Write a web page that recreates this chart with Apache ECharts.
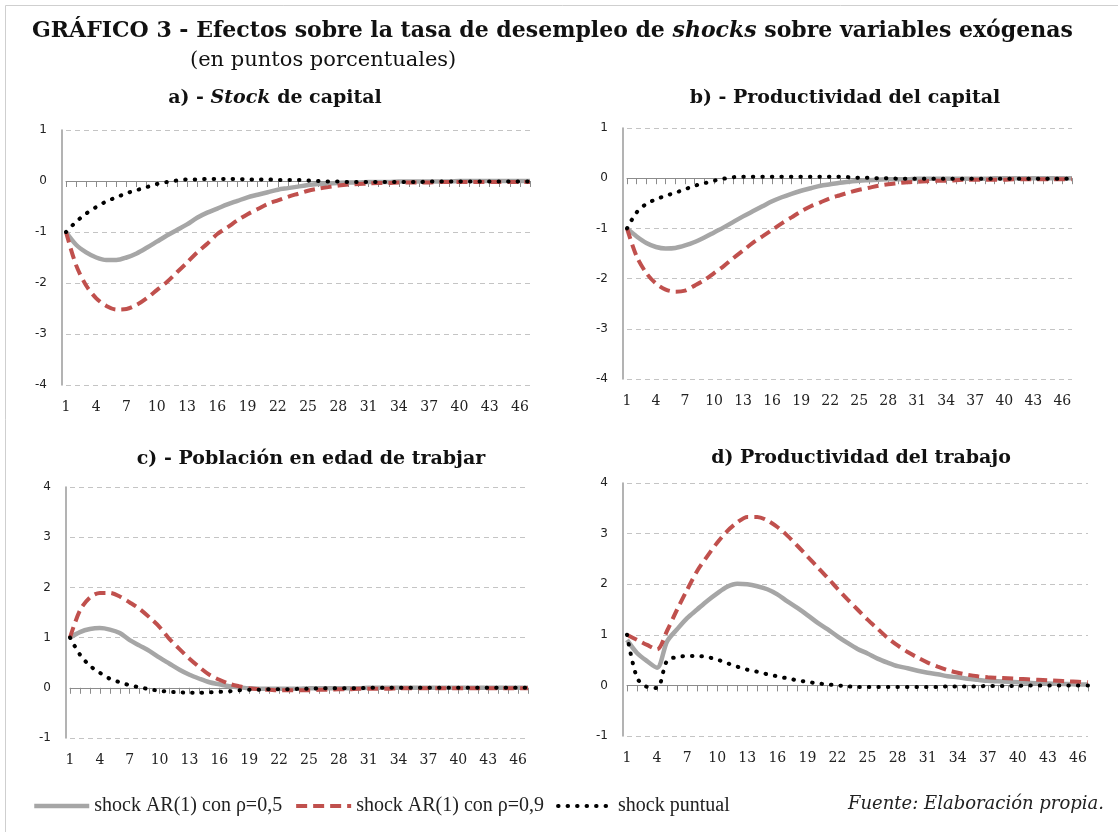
<!DOCTYPE html>
<html>
<head>
<meta charset="utf-8">
<title>Gráfico 3</title>
<script src="https://cdn.jsdelivr.net/npm/echarts@6/dist/echarts.min.js"></script>
<style>
html,body{margin:0;padding:0;background:#fff;}
#main{width:1118px;height:832px;}
</style>
</head>
<body>
<div id="main"></div>
<script>
// períodos (eje x)
var cats = ['1','2','3','4','5','6','7','8','9','10','11','12','13','14','15','16','17','18','19','20',
    '21','22','23','24','25','26','27','28','29','30','31','32','33','34','35','36','37','38','39','40',
    '41','42','43','44','45','46','47'];

var serieNames = ['shock AR(1) con ρ=0,5', 'shock AR(1) con ρ=0,9', 'shock puntual'];

// a) Stock de capital
var aR5 = [-1.00,-1.25,-1.40,-1.50,-1.55,-1.55,-1.50,-1.42,-1.31,-1.19,
    -1.07,-0.96,-0.85,-0.72,-0.62,-0.54,-0.46,-0.39,-0.32,-0.27,
    -0.22,-0.17,-0.14,-0.11,-0.08,-0.06,-0.05,-0.04,-0.03,-0.03,
    -0.02,-0.02,-0.02,-0.01,-0.01,-0.01,-0.01,-0.01,-0.01,0,
    0,0,0,0,0,0,0];
var aR9 = [-1.00,-1.65,-2.05,-2.30,-2.45,-2.52,-2.51,-2.43,-2.30,-2.14,
    -1.98,-1.79,-1.60,-1.40,-1.23,-1.04,-0.91,-0.77,-0.65,-0.55,
    -0.45,-0.38,-0.31,-0.25,-0.19,-0.15,-0.12,-0.09,-0.07,-0.06,
    -0.05,-0.04,-0.04,-0.03,-0.03,-0.03,-0.03,-0.02,-0.02,-0.02,
    -0.02,-0.02,-0.02,-0.02,-0.02,-0.02,-0.02];
var aPt = [-1.00,-0.80,-0.64,-0.51,-0.40,-0.32,-0.24,-0.18,-0.12,-0.06,
    -0.02,0.01,0.03,0.03,0.04,0.04,0.04,0.04,0.03,0.03,
    0.03,0.02,0.02,0.02,0.01,0.00,-0.01,-0.01,-0.02,-0.02,
    -0.02,-0.02,-0.02,-0.02,-0.02,-0.02,-0.01,-0.01,-0.01,-0.01,
    -0.01,-0.01,-0.01,-0.01,-0.01,-0.01,-0.01];

// b) Productividad del capital
var bR5 = [-1.00,-1.16,-1.29,-1.37,-1.40,-1.39,-1.34,-1.27,-1.18,-1.08,
    -0.98,-0.87,-0.76,-0.66,-0.56,-0.46,-0.38,-0.31,-0.25,-0.20,
    -0.15,-0.12,-0.09,-0.07,-0.05,-0.04,-0.03,-0.02,-0.02,-0.02,
    -0.01,-0.01,-0.01,-0.01,-0.01,-0.01,-0.01,-0.01,0,0,
    0,0,0,0,0,0,0];
var bR9 = [-1.00,-1.56,-1.89,-2.10,-2.22,-2.26,-2.24,-2.14,-2.03,-1.89,
    -1.75,-1.59,-1.44,-1.29,-1.16,-1.03,-0.90,-0.78,-0.66,-0.56,
    -0.48,-0.40,-0.34,-0.28,-0.23,-0.19,-0.15,-0.12,-0.10,-0.08,
    -0.07,-0.06,-0.05,-0.05,-0.04,-0.03,-0.03,-0.03,-0.03,-0.03,
    -0.02,-0.02,-0.02,-0.02,-0.02,-0.02,-0.02];
var bPt = [-1.00,-0.68,-0.51,-0.42,-0.35,-0.29,-0.22,-0.15,-0.10,-0.05,
    -0.01,0.02,0.03,0.03,0.03,0.03,0.03,0.03,0.03,0.03,
    0.03,0.03,0.03,0.02,0.01,0.01,0.00,0.00,-0.01,-0.01,
    -0.01,-0.01,-0.01,-0.01,-0.01,-0.01,-0.01,-0.01,-0.01,-0.01,
    -0.01,-0.01,-0.01,-0.01,-0.01,-0.01,-0.01];

// c) Población en edad de trabajar
var cR5 = [1.00,1.11,1.17,1.19,1.16,1.09,0.95,0.84,0.73,0.60,
    0.48,0.36,0.26,0.18,0.11,0.07,0.03,0.01,-0.01,-0.02,
    -0.02,-0.02,-0.02,-0.02,-0.01,-0.01,-0.01,-0.01,-0.01,-0.01,
    0,0,0,0,0,0,0,0,0,0,
    0,0,0,0,0,0,0];
var cR9 = [1.00,1.54,1.80,1.89,1.89,1.82,1.70,1.57,1.40,1.21,
    0.97,0.77,0.58,0.41,0.26,0.16,0.08,0.03,-0.01,-0.03,
    -0.04,-0.05,-0.05,-0.05,-0.05,-0.04,-0.04,-0.03,-0.03,-0.02,
    -0.02,-0.02,-0.02,-0.01,-0.01,-0.01,-0.01,-0.01,-0.01,-0.01,
    -0.01,-0.01,-0.01,-0.01,-0.01,-0.01,-0.01];
var cPt = [1.00,0.66,0.44,0.30,0.18,0.11,0.05,0.01,-0.03,-0.06,
    -0.08,-0.09,-0.10,-0.10,-0.09,-0.08,-0.07,-0.05,-0.04,-0.04,
    -0.03,-0.03,-0.03,-0.02,-0.02,-0.01,-0.01,-0.01,-0.01,-0.01,
    0,0,0,0,0,0,0,0,0,0,
    0,0,0,0,0,0,0];

// d) Productividad del trabajo
var dR5 = [0.90,0.64,0.48,0.35,0.87,1.11,1.33,1.50,1.67,1.82,
    1.95,2.01,2.00,1.96,1.90,1.80,1.66,1.53,1.39,1.24,
    1.11,0.97,0.84,0.72,0.63,0.53,0.45,0.38,0.34,0.29,
    0.25,0.22,0.18,0.16,0.13,0.11,0.09,0.08,0.07,0.06,
    0.05,0.04,0.04,0.03,0.03,0.02,0.02];
var dR9 = [1.00,0.90,0.80,0.71,1.08,1.50,1.89,2.26,2.55,2.82,
    3.05,3.22,3.33,3.33,3.26,3.13,2.96,2.76,2.55,2.34,
    2.13,1.91,1.70,1.50,1.30,1.12,0.94,0.79,0.66,0.55,
    0.45,0.37,0.30,0.25,0.21,0.18,0.16,0.15,0.14,0.13,
    0.12,0.11,0.10,0.09,0.08,0.07,0.06];
var dPt = [1.00,0.15,-0.03,-0.05,0.49,0.56,0.58,0.58,0.56,0.51,
    0.44,0.37,0.31,0.27,0.22,0.18,0.14,0.10,0.07,0.04,
    0.02,0.00,-0.02,-0.03,-0.03,-0.03,-0.03,-0.03,-0.03,-0.03,
    -0.03,-0.03,-0.02,-0.02,-0.02,-0.02,-0.01,-0.01,-0.01,-0.01,
    0,0,0,0,0,0,0];

// posición de cada panel (px)
var panels = [
    {grid: {left: 66, top: 130, width: 464, height: 255}, min: -4, max: 1, data: [aR5, aR9, aPt]},
    {grid: {left: 627, top: 128, width: 445, height: 251}, min: -4, max: 1, data: [bR5, bR9, bPt]},
    {grid: {left: 70, top: 487, width: 458, height: 251}, min: -1, max: 4, data: [cR5, cR9, cPt]},
    {grid: {left: 627, top: 483, width: 461, height: 253}, min: -1, max: 4, data: [dR5, dR9, dPt]}
];

var lineStyles = [
    {color: '#a6a6a6', width: 4.5},
    {color: '#c0504d', width: 4, type: [11, 6]},
    {color: '#000000', width: 4, type: [0.5, 9], cap: 'round'}
];

var grids = [], xAxes = [], yAxes = [], series = [];
panels.forEach(function (p, i) {
    grids.push(p.grid);
    // eje con etiquetas abajo
    xAxes.push({
        type: 'category', gridIndex: i, data: cats, boundaryGap: false, position: 'bottom',
        axisLine: {show: false, onZero: false}, axisTick: {show: false},
        axisLabel: {interval: 2, margin: 15, fontFamily: 'DejaVu Serif', fontSize: 14, color: '#222'}
    });
    // línea del cero con marcas
    xAxes.push({
        type: 'category', gridIndex: i, data: cats, boundaryGap: false, position: 'bottom',
        axisLine: {show: true, onZero: true, lineStyle: {color: '#8c8c8c', width: 1}},
        axisTick: {show: true, interval: 0, length: 6, lineStyle: {color: '#8c8c8c'}},
        axisLabel: {show: false}
    });
    yAxes.push({
        type: 'value', gridIndex: i, min: p.min, max: p.max, interval: 1, offset: 4,
        axisLine: {show: true, lineStyle: {color: '#9a9a9a', width: 1.5}},
        axisTick: {show: false},
        axisLabel: {margin: 15, fontFamily: 'DejaVu Sans', fontSize: 12, color: '#222'},
        splitLine: {lineStyle: {color: '#c4c4c4', type: [5, 4]}}
    });
    for (var k = 0; k < 3; k++) {
        series.push({
            name: serieNames[k], type: 'line', xAxisIndex: 2 * i, yAxisIndex: i,
            data: p.data[k], symbol: 'none', smooth: 0.3,
            lineStyle: lineStyles[k], itemStyle: {color: lineStyles[k].color},
            emphasis: {disabled: true}
        });
    }
});

var boldRich = {
    b: {fontFamily: 'DejaVu Serif', fontWeight: 'bold', fontSize: 19, color: '#111'},
    bi: {fontFamily: 'DejaVu Serif', fontWeight: 'bold', fontStyle: 'italic', fontSize: 19, color: '#111'}
};

var option = {
    backgroundColor: '#ffffff',
    animation: false,
    title: [
        {
            text: '{b|GRÁFICO 3 - Efectos sobre la tasa de desempleo de }{bi|shocks}{b| sobre variables exógenas}',
            left: 32, top: 20, padding: 0,
            textStyle: {rich: {
                b: {fontFamily: 'DejaVu Serif', fontWeight: 'bold', fontSize: 22, color: '#111'},
                bi: {fontFamily: 'DejaVu Serif', fontWeight: 'bold', fontStyle: 'italic', fontSize: 22, color: '#111'}
            }}
        },
        {
            text: '(en puntos porcentuales)', left: 190, top: 50, padding: 0,
            textStyle: {fontFamily: 'DejaVu Serif', fontWeight: 'normal', fontSize: 21, color: '#111'}
        },
        {text: '{b|a) - }{bi|Stock}{b| de capital}', left: 275, top: 89, padding: 0, textAlign: 'center', textStyle: {rich: boldRich}},
        {text: '{b|b) - Productividad del capital}', left: 845, top: 89, padding: 0, textAlign: 'center', textStyle: {rich: boldRich}},
        {text: '{b|c) - Población en edad de trabjar}', left: 311, top: 450, padding: 0, textAlign: 'center', textStyle: {rich: boldRich}},
        {text: '{b|d) Productividad del trabajo}', left: 861, top: 449, padding: 0, textAlign: 'center', textStyle: {rich: boldRich}},
        {
            text: 'Fuente: Elaboración propia.', left: 848, top: 795, padding: 0,
            textStyle: {fontFamily: 'DejaVu Serif', fontStyle: 'italic', fontWeight: 'normal', fontSize: 18, color: '#222'}
        }
    ],
    legend: {
        data: serieNames, left: 32, top: 796, padding: 0,
        itemWidth: 55, itemHeight: 14, itemGap: 12,
        itemStyle: {opacity: 0, borderWidth: 0},
        lineStyle: {width: 'inherit'},
        textStyle: {fontFamily: 'Liberation Serif', fontSize: 20, color: '#222'}
    },
    graphic: [{
        type: 'rect', silent: true,
        shape: {x: 5.5, y: 5.5, width: 1200, height: 1000},
        style: {fill: 'none', stroke: '#cfcfcf', lineWidth: 1}
    }],
    grid: grids,
    xAxis: xAxes,
    yAxis: yAxes,
    series: series
};

var myChart = echarts.init(document.getElementById('main'));
myChart.setOption(option);
</script>
</body>
</html>
